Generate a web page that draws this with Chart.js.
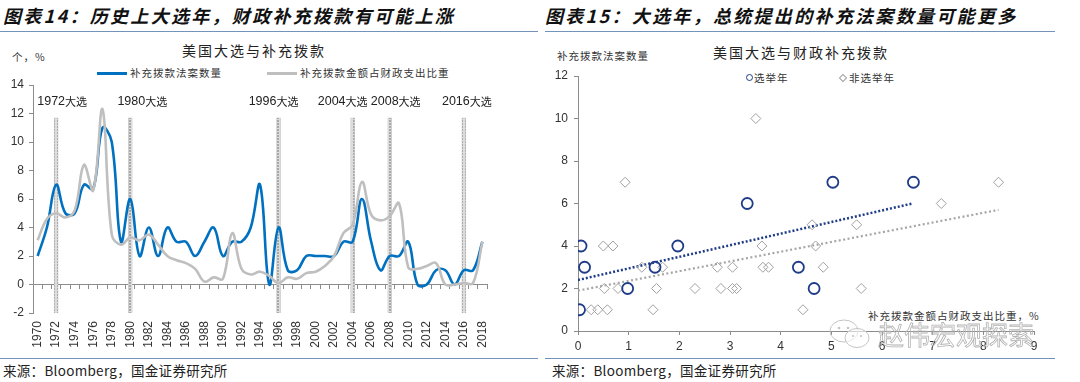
<!DOCTYPE html>
<html>
<head>
<meta charset="utf-8">
<script src="https://cdn.jsdelivr.net/npm/chart.js@4.4.1/dist/chart.umd.min.js"></script>
<style>
  html, body { margin: 0; padding: 0; background: #fff; }
  body { width: 1080px; height: 382px; position: relative; overflow: hidden;
         font-family: "Noto Sans CJK SC", sans-serif; color: #222; }
  .abs { position: absolute; white-space: nowrap; }
  canvas { position: absolute; top: 0; }
  .head { top: 4px; font: italic bold 18px "Noto Sans CJK SC", sans-serif; letter-spacing: 2.3px; line-height: 22px; color: #111; }
  .rule { position: absolute; height: 1px; background: #7393b9; }
  .foot { top: 361px; font-size: 13.5px; letter-spacing: 0.3px; line-height: 18px; color: #222; }
  .ttl { font-size: 14px; letter-spacing: 2px; line-height: 18px; color: #222; }
  .small { font-size: 10.5px; letter-spacing: 1px; line-height: 14px; color: #333; }
  .sw { position: absolute; height: 3px; }
  .wm { font-size: 26px; color: transparent; -webkit-text-stroke: 0.8px #b3b3b3; line-height: 30px; }
</style>
</head>
<body>
<!-- left panel -->
<div class="abs head" style="left:3px;">图表14：历史上大选年，财政补充拨款有可能上涨</div>
<div class="rule" style="left:0; width:538px; top:31px;"></div>
<div class="abs ttl" style="left:182px; top:41px;">美国大选与补充拨款</div>
<div class="abs small" style="left:12px; top:50px;">个，%</div>
<div class="sw" style="left:97px; top:72px; width:30px; background:#0070c0;"></div>
<div class="abs small" style="left:130px; top:66px;">补充拨款法案数量</div>
<div class="sw" style="left:267px; top:72px; width:30px; background:#bfbfbf;"></div>
<div class="abs small" style="left:300px; top:66px;">补充拨款金额占财政支出比重</div>
<div class="rule" style="left:0; width:538px; top:358px;"></div>
<div class="abs foot" style="left:3px;">来源：Bloomberg，国金证券研究所</div>
<canvas id="left" width="540" height="382" style="left:0;"></canvas>

<!-- right panel -->
<div class="abs head" style="left:545px;">图表15：大选年，总统提出的补充法案数量可能更多</div>
<div class="rule" style="left:545px; width:510px; top:31px;"></div>
<div class="abs ttl" style="left:713px; top:43px;">美国大选与财政补充拨款</div>
<div class="abs small" style="left:557px; top:49px;">补充拨款法案数量</div>
<div class="abs" style="left:746px; top:74px; width:5px; height:5px; border:1.8px solid #1f3c88; border-radius:50%;"></div>
<div class="abs small" style="left:754px; top:71px;">选举年</div>
<div class="abs" style="left:840px; top:75px; width:4px; height:4px; border:1px solid #a0a0a0; transform:rotate(45deg);"></div>
<div class="abs small" style="left:849px; top:71px;">非选举年</div>
<div class="abs small" style="left:868px; top:309px;">补充拨款金额占财政支出比重，%</div>
<div class="rule" style="left:545px; width:510px; top:358px;"></div>
<div class="abs foot" style="left:552px;">来源：Bloomberg，国金证券研究所</div>
<canvas id="right" width="540" height="382" style="left:540px;"></canvas>
<svg class="abs" style="left:828px; top:318px;" width="46" height="32">
  <ellipse cx="16" cy="13" rx="14" ry="11" fill="none" stroke="#c4c4c4" stroke-width="1"/>
  <ellipse cx="29" cy="20" rx="12" ry="9.5" fill="#fff" fill-opacity="0.6" stroke="#c4c4c4" stroke-width="1"/>
  <circle cx="11" cy="10" r="1.3" fill="#c4c4c4"/><circle cx="20" cy="10" r="1.3" fill="#c4c4c4"/>
  <circle cx="25" cy="18" r="1.1" fill="#c4c4c4"/><circle cx="33" cy="18" r="1.1" fill="#c4c4c4"/>
</svg>
<div class="abs wm" style="left:878px; top:319px;">赵伟宏观探索</div>

<script>
// ---- left chart data -------------------------------------------------------
const years = ["1970","1971","1972","1973","1974","1975","1976","1977","1978","1979",
  "1980","1981","1982","1983","1984","1985","1986","1987","1988","1989",
  "1990","1991","1992","1993","1994","1995","1996","1997","1998","1999",
  "2000","2001","2002","2003","2004","2005","2006","2007","2008","2009",
  "2010","2011","2012","2013","2014","2015","2016","2017","2018"];
// supplemental appropriation bills (count)
const billCount = [2, 4, 7, 5, 5, 7, 6.7, 11, 10, 3,
  6, 2, 4, 2, 4, 3, 3, 2, 3, 4,
  2, 3, 3, 4, 7, 0, 4, 1, 1, 2,
  2, 2, 2, 3, 3, 6, 3, 1, 2, 2,
  3, 0, 0, 1, 1, 0, 1, 1, 3];
// supplemental amount as % of federal outlays
const billShare = [3.1, 4.6, 5.0, 4.7, 5.2, 8.4, 6.6, 12.3, 3.5, 2.8,
  3.3, 3.1, 3.5, 2.8, 2.0, 1.7, 1.5, 1.1, 0.2, 0.5,
  0.4, 3.6, 1.1, 0.7, 0.9, 0.6, 0.1, 0.5, 0.4, 0.8,
  0.9, 1.3, 2.0, 3.6, 4.2, 7.2, 4.9, 4.5, 4.8, 5.7,
  1.2, 1.1, 1.3, 1.5, 0.0, 0.0, 0.1, 0.1, 3.0];
const electYears = ["1972", "1980", "1996", "2004", "2008", "2016"];
const yTicksLeft = [-2, 0, 2, 4, 6, 8, 10, 12, 14];

// ---- right chart data ------------------------------------------------------
const electX = [0.06, 0.13, 0.03, 0.98, 1.52, 1.97, 3.34, 4.35, 4.66, 5.03, 6.62];
const electY = [4, 3, 1, 2, 3, 4, 6, 3, 2, 7, 7];
const otherX = [0.50, 0.69, 0.26, 0.39, 0.58, 0.52, 0.79, 1.26, 1.67, 1.55,
  1.48, 2.31, 2.75, 2.82, 3.05, 3.05, 3.13, 3.63, 3.65, 3.76,
  4.44, 4.69, 4.84, 5.59, 0.93, 8.30, 7.17, 4.62, 5.50, 3.51];
const otherY = [4, 4, 1, 1, 1, 2, 2, 3, 3, 2,
  1, 2, 3, 2, 3, 2, 2, 4, 3, 3,
  1, 4, 3, 2, 7, 7, 6, 5, 5, 10];
const electTrendX = [0, 6.6];
const electTrendY = [2.4, 6.0];
const otherTrendX = [0, 8.3];
const otherTrendY = [1.9, 5.7];

// ---- styles ----------------------------------------------------------------
const C = {
  blue: "#0070c0", gray: "#bfbfbf", navy: "#1f3c88", diamond: "#a0a0a0",
  axis: "#8c8c8c", text: "#333",
};
const BAR_LO = -2, BAR_HI = 11.7;      // election marker span
const TAG_AT = 12.85;                   // election tag height
const TAG_NUDGE = [6, 12, -5, -10, 6, 3];

Chart.defaults.font.family = "'Liberation Sans', Arial, sans-serif";
Chart.defaults.font.size = 12;
Chart.defaults.color = C.text;

// light dotted stripe for the election markers
function stripe() {
  const c = document.createElement("canvas");
  c.width = 4; c.height = 3;
  const g = c.getContext("2d");
  g.fillStyle = "#dcdcdc"; g.fillRect(0, 0, 4, 3);
  g.fillStyle = "#a9a9a9"; g.fillRect(1, 0, 2, 2);
  return g.createPattern(c, "repeat");
}

const electTags = {
  id: "electTags",
  afterDatasetsDraw(chart) {
    const { ctx, scales: { x, y } } = chart;
    ctx.save();
    ctx.fillStyle = "#222";
    ctx.textBaseline = "middle";
    ctx.textAlign = "left";
    electYears.forEach((yr, i) => {
      const cx = x.getPixelForValue(years.indexOf(yr)) + TAG_NUDGE[i];
      const cy = y.getPixelForValue(TAG_AT);
      ctx.font = "12.5px 'Liberation Sans', Arial";
      const w1 = ctx.measureText(yr).width;
      ctx.font = "11px 'Noto Sans CJK SC'";
      const w2 = ctx.measureText("大选").width;
      const sx = cx - (w1 + w2) / 2;
      ctx.font = "12.5px 'Liberation Sans', Arial";
      ctx.fillText(yr, sx, cy);
      ctx.font = "11px 'Noto Sans CJK SC'";
      ctx.fillText("大选", sx + w1, cy);
    });
    ctx.restore();
  },
};

new Chart(document.getElementById("left"), {
  data: {
    labels: years,
    datasets: [
      { type: "line", label: "补充拨款金额占财政支出比重", data: billShare, borderColor: C.gray,
        borderWidth: 2.6, pointRadius: 0, tension: 0.4, order: 0 },
      { type: "line", label: "补充拨款法案数量", data: billCount, borderColor: C.blue,
        borderWidth: 2.6, pointRadius: 0, tension: 0.4, order: 1 },
      { type: "bar", label: "大选", data: years.map(y => electYears.includes(y) ? [BAR_LO, BAR_HI] : null),
        backgroundColor: stripe(), borderColor: "#c4c4c4", borderWidth: 0.6, barThickness: 4, order: 2 },
    ],
  },
  options: {
    responsive: false, animation: false,
    layout: { padding: { left: 0, top: 85, right: 53, bottom: 29 } },
    plugins: { legend: { display: false }, tooltip: { enabled: false } },
    scales: {
      x: {
        type: "category", offset: true, position: "bottom",
        grid: { display: false, drawTicks: false }, border: { display: false },
        ticks: { autoSkip: false, minRotation: 90, maxRotation: 90, padding: 8,
          callback: (v, i) => (i % 2 === 0 ? years[i] : "") },
        afterFit: (s) => { s.height = 40; },
      },
      x0: {
        type: "category", offset: true, position: { y: 0 },
        grid: { display: true, drawOnChartArea: false, drawTicks: true, tickLength: 4, color: C.axis, offset: true },
        border: { display: true, color: C.axis, width: 1 },
        ticks: { display: false },
      },
      y: {
        min: -2, max: 14,
        afterBuildTicks: (s) => { s.ticks = yTicksLeft.map(v => ({ value: v })); },
        grid: { display: true, drawOnChartArea: false, drawTicks: true, tickLength: 4, color: C.axis },
        border: { display: true, color: C.axis, width: 1 },
        ticks: { padding: 5 },
        afterFit: (s) => { s.width = 33; },
      },
    },
  },
  plugins: [electTags],
});

const pts = (xs, ys) => xs.map((x, i) => ({ x, y: ys[i] }));

new Chart(document.getElementById("right"), {
  type: "scatter",
  data: {
    datasets: [
      { label: "选举年", data: pts(electX, electY), pointStyle: "circle", pointRadius: 5.5,
        borderColor: C.navy, backgroundColor: "rgba(255,255,255,0)", borderWidth: 1.8, order: 0 },
      { label: "非选举年", data: pts(otherX, otherY), pointStyle: "rectRot", pointRadius: 5,
        borderColor: C.diamond, backgroundColor: "rgba(255,255,255,0)", borderWidth: 1, order: 1 },
      { type: "line", label: "趋势-选举年", data: pts(electTrendX, electTrendY), borderColor: C.navy,
        borderWidth: 2.5, borderDash: [2, 2], pointRadius: 0, order: 2 },
      { type: "line", label: "趋势-非选举年", data: pts(otherTrendX, otherTrendY), borderColor: "#a6a6a6",
        borderWidth: 2.2, borderDash: [2, 2.5], pointRadius: 0, order: 3 },
    ],
  },
  options: {
    responsive: false, animation: false,
    layout: { padding: { left: 0, top: 76, right: 46, bottom: 26 } },
    plugins: { legend: { display: false }, tooltip: { enabled: false } },
    scales: {
      x: {
        type: "linear", min: 0, max: 9,
        ticks: { stepSize: 1, padding: 4 },
        grid: { display: true, drawOnChartArea: false, drawTicks: true, tickLength: 4, color: C.axis },
        border: { display: true, color: C.axis, width: 1 },
        afterFit: (s) => { s.height = 25; },
      },
      y: {
        type: "linear", min: 0, max: 12,
        ticks: { stepSize: 2, padding: 6 },
        grid: { display: true, drawOnChartArea: false, drawTicks: true, tickLength: 4, color: C.axis },
        border: { display: true, color: C.axis, width: 1 },
        afterFit: (s) => { s.width = 38; },
      },
    },
  },
});
</script>
</body>
</html>
